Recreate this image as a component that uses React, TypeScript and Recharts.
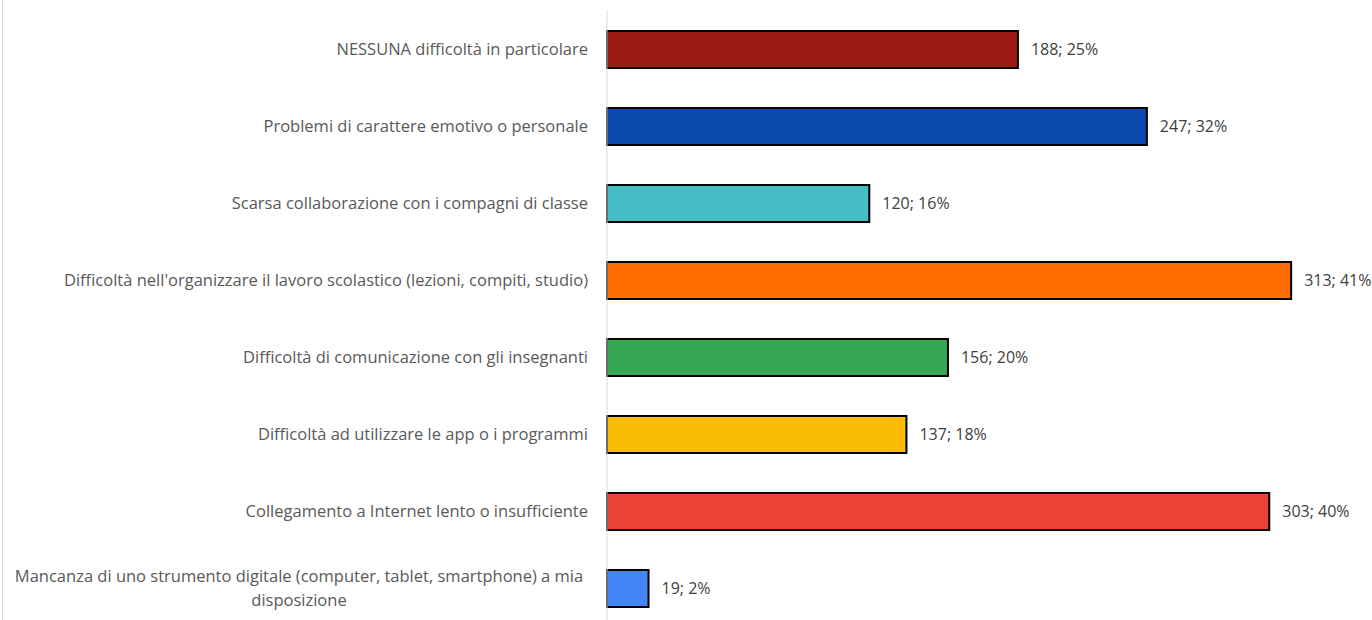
import { BarChart, Bar, XAxis, YAxis, Cell, LabelList } from 'recharts'

const categories = [
  'NESSUNA difficoltà in particolare',
  'Problemi di carattere emotivo o personale',
  'Scarsa collaborazione con i compagni di classe',
  "Difficoltà nell'organizzare il lavoro scolastico (lezioni, compiti, studio)",
  'Difficoltà di comunicazione con gli insegnanti',
  'Difficoltà ad utilizzare le app o i programmi',
  'Collegamento a Internet lento o insufficiente',
  'Mancanza di uno strumento digitale (computer, tablet, smartphone) a mia disposizione',
]
const counts = [188, 247, 120, 313, 156, 137, 303, 19]
const percents = [25, 32, 16, 41, 20, 18, 40, 2]
const colors = ['#9C1B12', '#0B4BB0', '#47BDC6', '#FF6D00', '#34A853', '#FBBC04', '#EA4335', '#4285F4']

const data = categories.map((name, i) => ({
  name,
  value: counts[i],
  label: `${counts[i]}; ${percents[i]}%`,
}))

const FONT = '"Open Sans", Lato, sans-serif'

// wrap long labels into lines of at most ~72 chars
function wrap(text: string) {
  if (text.length <= 80) return [text]
  const lines: string[] = []
  let cur = ''
  for (const w of text.split(' ')) {
    if ((cur + ' ' + w).trim().length > 72) {
      lines.push(cur)
      cur = w
    } else cur = (cur + ' ' + w).trim()
  }
  if (cur) lines.push(cur)
  return lines
}

function Tick({ x, y, payload }: any) {
  const lines = wrap(payload.value)
  const right = x - 11
  if (lines.length === 1) {
    return (
      <text x={right} y={y} dy={5} textAnchor="end" fill="#595959" fontSize={16.5} fontFamily={FONT}>
        {payload.value}
      </text>
    )
  }
  const cx = (right + 10) / 2
  return (
    <text x={cx} y={y} textAnchor="middle" fill="#595959" fontSize={16.5} fontFamily={FONT}>
      {lines.map((l, i) => (
        <tspan key={i} x={cx} dy={i === 0 ? 5 - ((lines.length - 1) * 24) / 2 : 24}>
          {l}
        </tspan>
      ))}
    </text>
  )
}

export default function App() {
  return (
    <div style={{ position: 'fixed', left: 0, top: 0, width: 1372, height: 620, overflow: 'hidden', background: '#fff' }}>
      <div style={{ position: 'absolute', left: 2, top: 0, width: 1, height: 620, background: '#d9d9d9' }} />
      <div style={{ position: 'absolute', left: 0, top: 0 }}>
        <BarChart
          width={1372}
          height={627}
          data={data}
          layout="vertical"
          margin={{ top: 11, right: 0, bottom: 0, left: 0 }}
          barSize={37}
        >
          <XAxis type="number" domain={[0, 350]} hide />
          <YAxis
            type="category"
            dataKey="name"
            width={607}
            axisLine={{ stroke: '#d9d9d9', strokeWidth: 1 }}
            tickLine={false}
            tick={<Tick />}
            interval={0}
          />
          <Bar dataKey="value" stroke="#000" strokeWidth={2} isAnimationActive={false}>
            {data.map((d, i) => (
              <Cell key={d.name} fill={colors[i]} />
            ))}
            <LabelList dataKey="label" position="right" offset={13} fill="#404040" fontSize={16} fontFamily={FONT} />
          </Bar>
        </BarChart>
      </div>
    </div>
  )
}
